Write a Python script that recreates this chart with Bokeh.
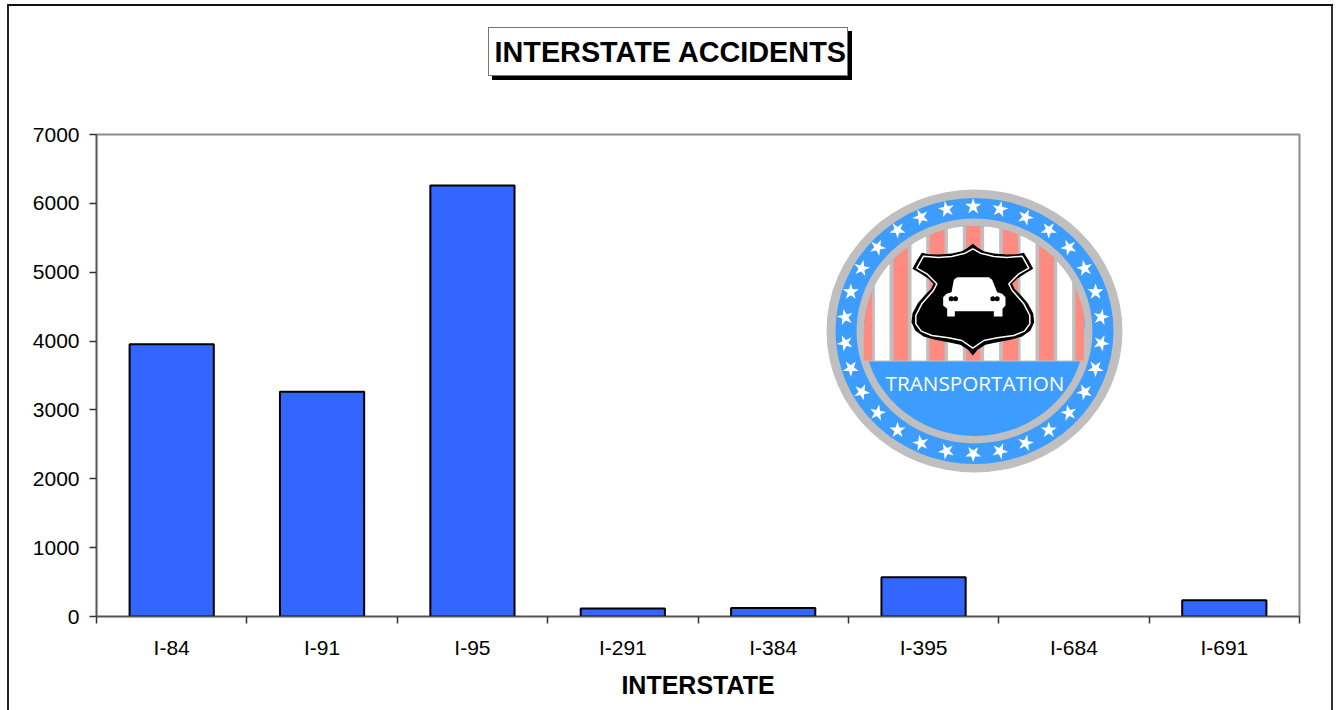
import math
from bokeh.plotting import figure
from bokeh.embed import file_html
from bokeh.resources import INLINE
from bokeh.models import Range1d, FixedTicker, Title
from bokeh.core.properties import value

interstates = ["I-84", "I-91", "I-95", "I-291", "I-384", "I-395", "I-684", "I-691"]
accidents = [3955, 3265, 6260, 115, 125, 570, 0, 235]
y_ticks = [0, 1000, 2000, 3000, 4000, 5000, 6000, 7000]
title_text = "INTERSTATE ACCIDENTS"
x_title = "INTERSTATE"
badge_text = "TRANSPORTATION"

W, H = 1337, 710
FL, FR, FT, FB = 96, 1299, 134, 616
FONT = "Liberation Sans"

p = figure(width=W, height=H, output_backend="svg", toolbar_location=None,
           x_range=Range1d(0, len(interstates)), y_range=Range1d(0, 7000),
           min_border_left=FL, min_border_right=W - FR,
           min_border_top=FT, min_border_bottom=H - FB,
           tools="")
p.grid.visible = False
p.outline_line_color = "#8c8c8c"
p.outline_line_width = 2
p.background_fill_color = "white"
p.border_fill_color = None


def css_box(color, x, y, w, h):
    return f"linear-gradient({color},{color}) {x}px {y}px/{w}px {h}px no-repeat"


# page chrome that lies outside the plot frame: outer border and title box with hard shadow
p.styles = {"background": ", ".join([
    css_box("white", 489, 28, 358, 47),
    css_box("#777777", 488, 27, 360, 49),
    css_box("black", 492, 31, 360, 49),
    css_box("#111111", 8, 4, 1325, 2),
    css_box("#222222", 7, 4, 2, 706),
    css_box("#333333", 1331, 4, 2, 706),
]) + ", white"}

p.title.text = title_text
p.title.text_font = FONT
p.title.text_font_style = "bold"
p.title.text_font_size = "28.8px"
p.title.text_color = "black"
p.title.align = "left"
p.title.offset = 494 - FL
p.title.standoff = 10
# a blank spacer between the title and the frame lifts the title into its box
p.add_layout(Title(text=" ", text_font_size="20px", standoff=38), "above")

# every overlay is placed in the picture's own pixel coordinates
p.extra_x_ranges["px"] = Range1d(FL, FR)
p.extra_y_ranges["px"] = Range1d(FB, FT)

# axes
xa = p.xaxis[0]
centers = [i + 0.5 for i in range(len(interstates))]
xa.ticker = FixedTicker(ticks=centers, minor_ticks=list(range(len(interstates) + 1)))
xa.major_label_overrides = {c: s for c, s in zip(centers, interstates)}
xa.major_tick_in = 0
xa.major_tick_out = 0
xa.minor_tick_in = 0
xa.minor_tick_out = 7
xa.minor_tick_line_color = "#333333"
xa.minor_tick_line_width = 1.5
xa.axis_line_color = "#555555"
xa.axis_line_width = 1.5
xa.major_label_text_font = FONT
xa.major_label_text_font_size = "21px"
xa.major_label_text_color = "black"
xa.major_label_standoff = 12
xa.axis_label = x_title
xa.axis_label_text_font = FONT
xa.axis_label_text_font_style = "bold"
xa.axis_label_text_font_size = "25px"
xa.axis_label_text_color = "black"
xa.axis_label_standoff = 9

ya = p.yaxis[0]
ya.ticker = FixedTicker(ticks=y_ticks)
ya.minor_tick_line_color = None
ya.major_tick_in = 0
ya.major_tick_out = 7
ya.major_tick_line_color = "#333333"
ya.major_tick_line_width = 1.5
ya.axis_line_color = "#555555"
ya.axis_line_width = 1.5
ya.major_label_text_font = FONT
ya.major_label_text_font_size = "21px"
ya.major_label_text_color = "black"
ya.major_label_standoff = 10

# bars
p.vbar(x=centers, top=accidents, bottom=0, width=0.56,
       fill_color="#3366FF", line_width=2,
       line_color=["black" if v > 0 else None for v in accidents])


def zx(v):
    return 820 + v / 3


def zy(v):
    return 180 + v / 3


PX = dict(x_range_name="px", y_range_name="px")
CX, CY = 974, 330.5
p.ellipse(x=[CX], y=[CY], width=[296], height=[283], fill_color="#BFBFBF", line_color=None, **PX)
p.ellipse(x=[CX], y=[CY], width=[278], height=[266], fill_color="#3D9DFF", line_color=None, **PX)
p.ellipse(x=[CX], y=[CY], width=[236], height=[225], fill_color="#BFBFBF", line_color=None, **PX)
p.ellipse(x=[CX], y=[CY], width=[221], height=[210], fill_color="#3D9DFF", line_color=None, **PX)

RX, RY = 110.5, 105
SPLIT = 361


def arc_top(x):
    d = max(0.0, 1 - ((x - CX) / RX) ** 2)
    return CY - RY * math.sqrt(d)


# grey field behind the stripes
xs = [CX - RX + i * (2 * RX) / 80 for i in range(81)]
xs = [x for x in xs if arc_top(x) < SPLIT]
p.patch(xs + [xs[-1], xs[0]], [arc_top(x) for x in xs] + [SPLIT, SPLIT],
        fill_color="#BFBFBF", line_color=None, **PX)

stripes = [(130, 155, "#FF8A80"), (163, 207, "white"), (219, 262, "#FF8A80"),
           (273, 317, "white"), (327, 372, "#FF8A80"), (382, 427, "white"),
           (437, 480, "#FF8A80"), (491, 536, "white"), (547, 592, "#FF8A80"),
           (600, 645, "white"), (656, 700, "#FF8A80"), (710, 755, "white"),
           (765, 790, "#FF8A80")]
for a, b, c in stripes:
    xa0, xb0 = zx(a), zx(b)
    sx = [xa0 + (xb0 - xa0) * i / 10 for i in range(11)]
    p.patch(sx + [xb0, xa0], [arc_top(x) for x in sx] + [SPLIT - 1, SPLIT - 1],
            fill_color=c, line_color=None, **PX)

# stars round the ring
star_x, star_y, star_a = [], [], []
for k in range(30):
    t = math.radians(k * 12 + 0.0)
    star_x.append(zx(458 + 386 * math.sin(t)))
    star_y.append(zy(449 - 371 * math.cos(t)))
    star_a.append(-t)
p.scatter(x=star_x, y=star_y, size=17, marker="star", angle=star_a,
          fill_color="white", line_color=None, **PX)

# shield
half = [(457, 190), (472, 202), (490, 212), (520, 219), (560, 222), (590, 221), (610, 217),
        (625, 240), (638, 265), (615, 278), (590, 295), (575, 310), (582, 325), (600, 343),
        (622, 368), (638, 398), (641, 425), (630, 450), (605, 468), (570, 478), (530, 485),
        (495, 493), (472, 507), (457, 525)]
sh = half + [(914 - a, b) for a, b in reversed(half[1:-1])]
p.patch([zx(a) for a, b in sh], [zy(b) for a, b in sh], fill_color="black", line_color=None, **PX)
inner_half = [(457, 205), (480, 218), (520, 228), (560, 231), (605, 227), (625, 263), (595, 280),
              (565, 310), (575, 330), (610, 370), (628, 405), (628, 430), (612, 452), (580, 465),
              (530, 472), (490, 480), (457, 503)]
inner = inner_half + [(914 - a, b) for a, b in reversed(inner_half[1:-1])]
p.patch([zx(a) for a, b in inner], [zy(b) for a, b in inner], fill_color="black",
        line_color="white", line_width=1.5, **PX)

# car
car = [(410, 290), (505, 290), (515, 298), (530, 335), (545, 340), (555, 350), (555, 375),
       (546, 385), (546, 408), (520, 408), (520, 392), (403, 392), (403, 408), (380, 408),
       (380, 385), (368, 375), (368, 350), (378, 340), (393, 335), (400, 298)]
p.patch([zx(a) for a, b in car], [zy(b) for a, b in car], fill_color="white", line_color=None, **PX)
p.scatter(x=[zx(v) for v in (392, 405, 517, 530)], y=[zy(355)] * 4, size=5,
          fill_color="black", line_color=None, **PX)

p.text(x=[974.5], y=[382], text=[badge_text], text_font=value("Open Sans"),
       text_font_size="20.7px", text_color="white", text_align="center",
       text_baseline="middle", **PX)

open("out.html", "w").write(file_html(p, INLINE))
